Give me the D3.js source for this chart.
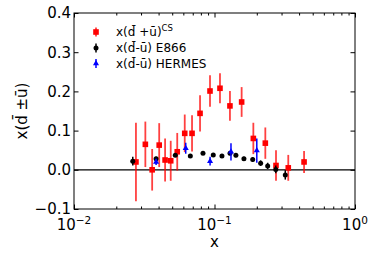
<html>
<head>
<script src="https://d3js.org/d3.v7.min.js"></script>
<style>
  body{margin:0;background:#fff;}
  text{font-family:"DejaVu Sans",sans-serif;fill:#000;}
  .axis path{display:none;}
  .axis line{stroke:#000;stroke-width:1;}
</style>
</head>
<body>
<script>
// x(dbar+ubar)^CS
const csX   = [0.0276,0.0322,0.036,0.0404,0.0445,0.0488,0.0543,0.0614,0.0692,0.0789,0.0929,0.1094,0.1288,0.156,0.189,0.230,0.274,0.335,0.434];
const csY   = [0.020,0.065,0.000,0.063,0.025,0.023,0.046,0.093,0.093,0.144,0.201,0.208,0.163,0.173,0.080,0.068,0.011,0.005,0.020];
const csErr = [0.100,0.058,0.053,0.056,0.055,0.051,0.048,0.048,0.046,0.046,0.040,0.038,0.038,0.038,0.040,0.040,0.039,0.033,0.028];
// E866
const e866X   = [0.0262,0.0384,0.0526,0.0673,0.0828,0.098,0.113,0.129,0.142,0.162,0.187,0.213,0.239,0.273,0.319];
const e866Y   = [0.022,0.028,0.037,0.035,0.042,0.038,0.035,0.042,0.037,0.028,0.026,0.017,0.010,0.001,-0.013];
const e866Err = [0.011,0.005,0.004,0.004,0.004,0.004,0.005,0.005,0.005,0.005,0.006,0.007,0.008,0.010,0.012];
// HERMES
const hermX   = [0.0384,0.0624,0.093,0.131,0.200];
const hermY   = [0.020,0.055,0.022,0.046,0.049];
const hermErr = [0.008,0.014,0.011,0.022,0.031];

const yTicks = [-0.1,0.0,0.1,0.2,0.3,0.4];
const yTickLabels = ["\u22120.1","0.0","0.1","0.2","0.3","0.4"];
const xTicks = [0.01,0.1,1];
const xTickExp = ["-2","-1","0"];

const W = 374, H = 262;
const pl = 74, pr = 355, pt = 13, pb = 209;

const x = d3.scaleLog().domain([0.01,1]).range([pl,pr]);
const y = d3.scaleLinear().domain([-0.1,0.4]).range([pb,pt]);

const svg = d3.select("body").append("svg").attr("width",W).attr("height",H);

// minor ticks for log axis
let minor = [];
[0.01,0.1].forEach(function(d){ for(let k=2;k<10;k++) minor.push(d*k); });

function tickAxes(axisFn, transform, vals, size){
  svg.append("g").attr("class","axis").attr("transform",transform)
    .call(axisFn.tickValues(vals).tickSizeInner(size).tickSizeOuter(0).tickFormat(""));
}
tickAxes(d3.axisBottom(x), "translate(0,"+pb+")", xTicks, -4.5);
tickAxes(d3.axisBottom(x), "translate(0,"+pb+")", minor, -2.5);
tickAxes(d3.axisTop(x), "translate(0,"+pt+")", xTicks, -4.5);
tickAxes(d3.axisTop(x), "translate(0,"+pt+")", minor, -2.5);
tickAxes(d3.axisLeft(y), "translate("+pl+",0)", yTicks, -4.5);
tickAxes(d3.axisRight(y), "translate("+pr+",0)", yTicks, -4.5);

// zero line
svg.append("line")
  .attr("x1",pl).attr("x2",pr)
  .attr("y1",y(0)).attr("y2",y(0))
  .attr("stroke","#000").attr("stroke-width",1.3);

// frame
svg.append("rect")
  .attr("x",pl).attr("y",pt)
  .attr("width",pr-pl).attr("height",pb-pt)
  .attr("fill","none").attr("stroke","#000").attr("stroke-width",1);

// y tick labels
svg.selectAll(".ylab").data(yTicks).enter().append("text")
  .attr("x",pl-3).attr("y",function(d){return y(d);})
  .attr("dy","0.36em").attr("text-anchor","end")
  .attr("font-size",15)
  .text(function(d,i){return yTickLabels[i];});

// x tick labels 10^n
xTicks.forEach(function(d,i){
  const t = svg.append("text").attr("x",x(d)).attr("y",230)
    .attr("text-anchor","middle").attr("font-size",15);
  t.append("tspan").text("10");
  t.append("tspan").attr("font-size",10.5).attr("dy",-6.5).text(xTickExp[i].replace("-","\u2212"));
});

// axis titles
svg.append("text").attr("x",(pl+pr)/2).attr("y",247)
  .attr("text-anchor","middle").attr("font-size",15).text("x");
svg.append("text")
  .attr("transform","translate(27,"+((pt+pb)/2)+") rotate(-90)")
  .attr("text-anchor","middle").attr("font-size",15)
  .text("x(d\u0304 \u00b1u\u0304)");

// data series
function errbars(xs, ys, es, color, w){
  svg.append("g").selectAll("line").data(xs).enter().append("line")
    .attr("x1",function(d){return x(d);}).attr("x2",function(d){return x(d);})
    .attr("y1",function(d,i){return y(ys[i]-es[i]);})
    .attr("y2",function(d,i){return y(ys[i]+es[i]);})
    .attr("stroke",color).attr("stroke-width",w);
}

errbars(csX, csY, csErr, "rgba(255,0,0,0.75)", 1.8);
svg.append("g").selectAll("rect").data(csX).enter().append("rect")
  .attr("x",function(d){return x(d)-2.8;})
  .attr("y",function(d,i){return y(csY[i])-2.8;})
  .attr("width",5.6).attr("height",5.6).attr("fill","#ff0000");

errbars(e866X, e866Y, e866Err, "#000", 1.5);
svg.append("g").selectAll("circle").data(e866X).enter().append("circle")
  .attr("cx",function(d){return x(d);})
  .attr("cy",function(d,i){return y(e866Y[i]);})
  .attr("r",2.5).attr("fill","#000");

errbars(hermX, hermY, hermErr, "#0000ff", 1.5);
const tri = d3.symbol().type(d3.symbolTriangle).size(16);
svg.append("g").selectAll("path").data(hermX).enter().append("path")
  .attr("d",tri)
  .attr("transform",function(d,i){return "translate("+x(d)+","+y(hermY[i])+")";})
  .attr("fill","#0000ff");

// legend
const lx = 96, lrows = [32,48,63.5], tx = 116;
const lg = svg.append("g");
lg.append("line").attr("x1",lx).attr("x2",lx).attr("y1",lrows[0]-4.5).attr("y2",lrows[0]+4.5)
  .attr("stroke","rgba(255,0,0,0.75)").attr("stroke-width",1.8);
lg.append("rect").attr("x",lx-2.8).attr("y",lrows[0]-2.8).attr("width",5.6).attr("height",5.6).attr("fill","#ff0000");
lg.append("line").attr("x1",lx).attr("x2",lx).attr("y1",lrows[1]-4.5).attr("y2",lrows[1]+4.5)
  .attr("stroke","#000").attr("stroke-width",1.5);
lg.append("circle").attr("cx",lx).attr("cy",lrows[1]).attr("r",2.5).attr("fill","#000");
lg.append("line").attr("x1",lx).attr("x2",lx).attr("y1",lrows[2]-4.5).attr("y2",lrows[2]+4.5)
  .attr("stroke","#0000ff").attr("stroke-width",1.5);
lg.append("path").attr("d",tri).attr("transform","translate("+lx+","+lrows[2]+")").attr("fill","#0000ff");

const t0 = lg.append("text").attr("x",tx).attr("y",lrows[0]).attr("dy","0.36em").attr("font-size",12);
t0.append("tspan").text("x(d\u0304 +u\u0304)");
t0.append("tspan").attr("font-size",8.5).attr("dy",-5.5).text("CS");
lg.append("text").attr("x",tx).attr("y",lrows[1]).attr("dy","0.36em").attr("font-size",12)
  .text("x(d\u0304-u\u0304) E866");
lg.append("text").attr("x",tx).attr("y",lrows[2]).attr("dy","0.36em").attr("font-size",12)
  .text("x(d\u0304-u\u0304) HERMES");
</script>
</body>
</html>
